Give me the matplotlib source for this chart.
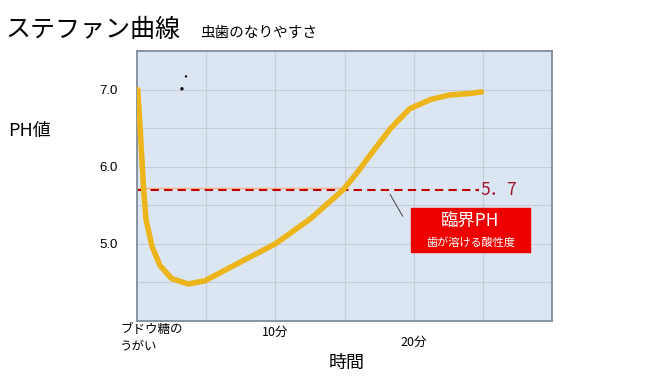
import numpy as np
import matplotlib.pyplot as plt
from matplotlib.patches import Rectangle
from matplotlib.transforms import blended_transform_factory

plt.rcParams['font.family'] = ['Noto Sans CJK JP', 'DejaVu Sans']

# pH curve (time in minutes)
minutes = [0.05, 0.24, 0.48, 0.65, 1.08, 1.66, 2.5, 3.7, 4.9, 6.9, 8.5, 10,
           12.5, 14.9, 15.9, 16.85, 18.3, 19.7, 21.2, 22.6, 24.1, 24.9]
ph = [7.0, 6.46, 5.70, 5.32, 4.97, 4.72, 4.55, 4.48, 4.52, 4.71, 4.86, 5.0,
      5.32, 5.7, 5.92, 6.15, 6.49, 6.75, 6.87, 6.93, 6.95, 6.97]
critical_ph = 5.7
critical_end = 24.7
x_labels = ["ブドウ糖の\nうがい", "10分", "20分"]
x_label_pos = [0, 10, 20]
y_ticks = [5.0, 6.0, 7.0]

fig = plt.figure(figsize=(6.72, 3.78), dpi=100)
ax = fig.add_axes([137 / 672, 57 / 378, 415 / 672, 270 / 378])
ax.set_facecolor("#DCE6F2")
ax.set_xlim(0, 30)
ax.set_ylim(4.0, 7.5)

ax.set_xticks(np.arange(5, 30, 5))
ax.set_xticklabels([])
ax.set_yticks(y_ticks)
ax.set_yticklabels([f"{v:.1f}" for v in y_ticks], fontsize=9.5, family=['Liberation Sans'])
ax.set_yticks([4.5, 5.5, 6.5], minor=True)
ax.tick_params(axis="both", which="both", length=0)
ax.tick_params(axis="y", pad=14)
ax.grid(True, which="both", color="#C5CFDA", linewidth=0.8)
ax.set_axisbelow(True)
for s in ax.spines.values():
    s.set_color("#7F8C9A")
    s.set_linewidth(1.3)

# threshold lines
ax.plot([0, 14.9], [critical_ph + 0.02] * 2, color="#F4B183", lw=1.0)
ax.plot([0, critical_end], [critical_ph] * 2, color="#C00000", lw=1.5,
        dashes=(4, 2.5))
ax.text(critical_end + 0.1, critical_ph, "5．7", color="#A01830", fontsize=12.5,
        va="center", ha="left")

ax.plot(minutes, ph, color="#EDB51C", lw=4, solid_capstyle="round",
        solid_joinstyle="round", zorder=3)

# stray dots
ax.scatter([3.25, 3.54], [7.01, 7.17], s=[2, 0.5], color="black", zorder=4)

# callout
ax.plot([18.3, 19.2], [5.64, 5.36], color="#404040", lw=0.7)
ax.add_patch(Rectangle((19.8, 4.89), 8.6, 0.58, color="#EE0000", zorder=4,
                       clip_on=False))
ax.text(24.1, 5.3, "臨界PH", color="white", fontsize=12.5, ha="center",
        va="center", zorder=5)
ax.text(24.1, 5.02, "歯が溶ける酸性度", color="white", fontsize=8,
        ha="center", va="center", zorder=5)

trans = blended_transform_factory(ax.transData, fig.transFigure)
ax.text(-1.2, 1 - 323 / 378, x_labels[0], transform=trans, fontsize=9,
        ha="left", va="top", linespacing=1.3)
ax.text(x_label_pos[1], 1 - 332 / 378, x_labels[1], transform=trans,
        fontsize=9, ha="center", va="center")
ax.text(x_label_pos[2], 1 - 342 / 378, x_labels[2], transform=trans,
        fontsize=9, ha="center", va="center")

fig.text(347 / 672, 1 - 363 / 378, "時間", fontsize=13, ha="center",
         va="center")
fig.text(8 / 672, 1 - 131 / 378, "PH値", fontsize=13, ha="left", va="center")
fig.text(6 / 672, 1 - 30 / 378, "ステファン曲線", fontsize=18, ha="left",
         va="center")
fig.text(200 / 672, 1 - 33 / 378, "虫歯のなりやすさ", fontsize=10.5,
         ha="left", va="center")

fig.savefig("out.png", dpi=100)
